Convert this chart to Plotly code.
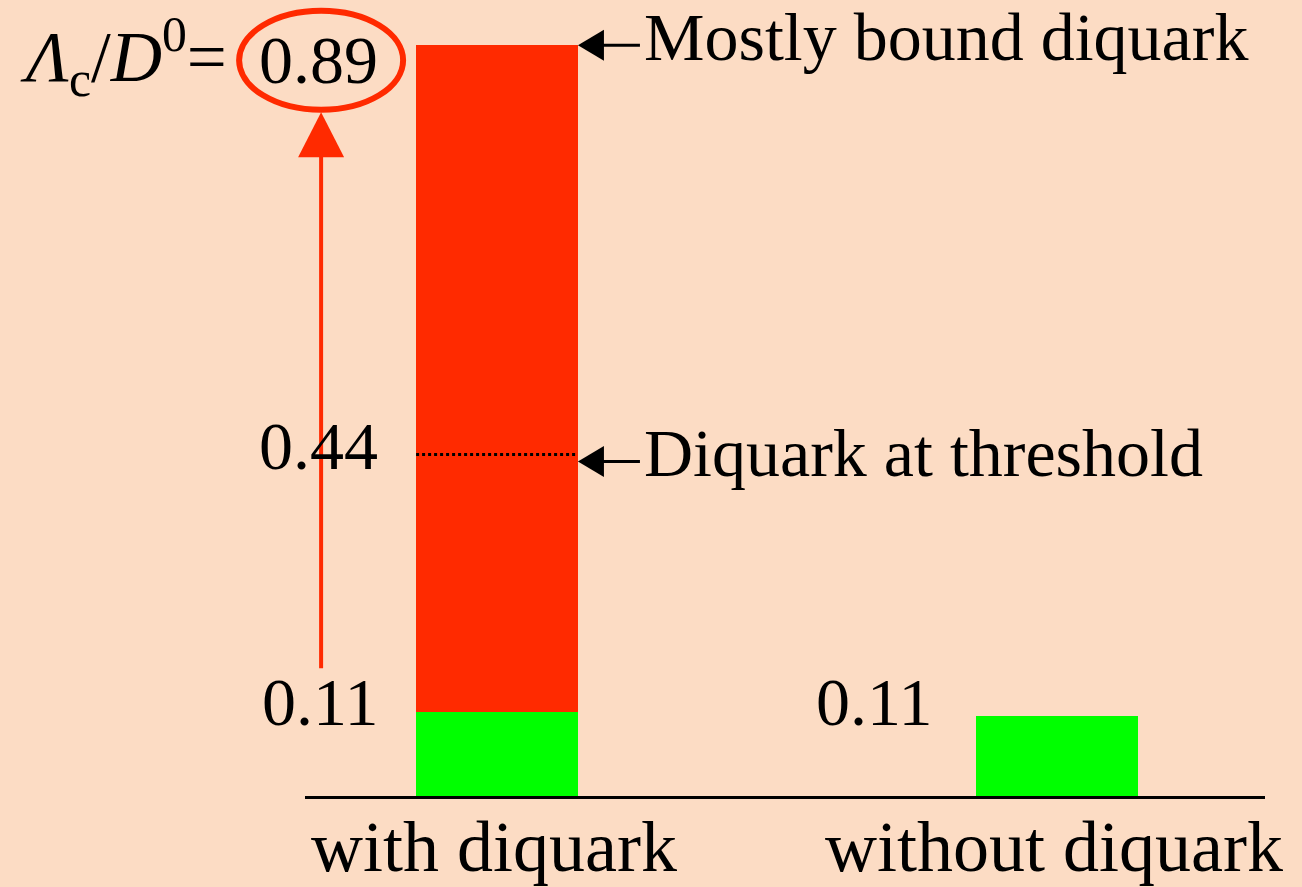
import plotly.graph_objects as go

# ---- data ----
categories = ["with diquark", "without diquark"]
x_pos = [0, 1]
base_share = [0.100, 0.095]      # green part
diquark_share = [0.790, 0.0]     # red part stacked on top
threshold_level = 0.405          # dotted line inside red bar
value_labels = ["0.89", "0.44", "0.11", "0.11"]

# ---- style / layout constants ----
BG = "#FCDCC4"
RED = "#FF2A00"
GREEN = "#00FF00"
FONT = "Liberation Serif"
BAR_W = 0.289
ML, MR, MT, MB = 305, 37, 20, 91
W, H = 1302, 887
X_RANGE = [-0.3429, 1.3714]
Y_RANGE = [0, 0.92]
SX = (W - ML - MR) / (X_RANGE[1] - X_RANGE[0])   # px per x unit

def dx(px):
    return px / SX

def to_paper_x(v):
    return (v - X_RANGE[0]) / (X_RANGE[1] - X_RANGE[0])

def to_paper_y(v):
    return (v - Y_RANGE[0]) / (Y_RANGE[1] - Y_RANGE[0])

fig = go.Figure()
fig.add_trace(go.Bar(x=x_pos, y=base_share, width=BAR_W, marker=dict(color=GREEN, line=dict(width=0)),
                     hoverinfo="skip", showlegend=False))
fig.add_trace(go.Bar(x=x_pos, y=diquark_share, width=BAR_W, marker=dict(color=RED, line=dict(width=0)),
                     hoverinfo="skip", showlegend=False))

top_level = base_share[0] + diquark_share[0]
left0 = x_pos[0] - BAR_W / 2
right0 = x_pos[0] + BAR_W / 2
left1 = x_pos[1] - BAR_W / 2
lab_x = left0 - dx(95)   # centre of the left label column
lab_px = to_paper_x(lab_x)
top_py = to_paper_y(top_level)

# dotted threshold line
fig.add_shape(type="line", xref="x", yref="y", x0=left0, x1=right0, y0=threshold_level, y1=threshold_level,
              line=dict(color="black", width=3, dash="dot"))

# black arrows pointing at the bar
for lvl, yoff, txt in [(top_level, 0, "Mostly bound diquark"), (threshold_level, -7, "Diquark at threshold")]:
    fig.add_shape(type="line", xref="x", yref="y", xsizemode="pixel", ysizemode="pixel",
                  xanchor=right0, yanchor=lvl, x0=20, x1=62, y0=yoff, y1=yoff,
                  line=dict(color="black", width=3))
    fig.add_shape(type="path", xref="x", yref="y", xsizemode="pixel", ysizemode="pixel",
                  xanchor=right0, yanchor=lvl,
                  path=f"M0,{yoff} L26,{yoff+15.5} L26,{yoff-15.5} Z",
                  fillcolor="black", line=dict(width=0))
    fig.add_annotation(x=right0, y=lvl, xref="x", yref="y", text=txt, showarrow=False,
                       xanchor="left", yanchor="middle", xshift=64, yshift=yoff + 8,
                       font=dict(family=FONT, size=68, color="black"))

# value labels
lab_specs = [
    (left0, top_level, -36, -15),
    (left0, threshold_level, -36, 8),
    (left0, base_share[0], -36, 10),
    (left1, base_share[1], -42, 14),
]
for (xa, ya, xs, ys), t in zip(lab_specs, value_labels):
    fig.add_annotation(x=xa, y=ya, xref="x", yref="y", text=t, showarrow=False,
                       xanchor="right", yanchor="middle", xshift=xs, yshift=ys,
                       font=dict(family=FONT, size=68, color="black"))

# category labels under the axis
for xp, cat in zip(x_pos, categories):
    fig.add_annotation(x=xp, y=0, xref="x", yref="paper", text=cat, showarrow=False,
                       xanchor="center", yanchor="top", xshift=-3, yshift=-9,
                       font=dict(family=FONT, size=72, color="black"))

# red ellipse around 0.89
fig.add_shape(type="circle", xref="paper", yref="paper", xsizemode="pixel", ysizemode="pixel",
              xanchor=lab_px, yanchor=top_py, x0=-82, x1=82, y0=-64.5, y1=34.5,
              line=dict(color=RED, width=6))

# red upward arrow from 0.11 to 0.89
fig.add_shape(type="line", xref="paper", yref="paper", xsizemode="pixel", ysizemode="pixel",
              xanchor=lab_px, yanchor=top_py, x0=0, x1=0, y0=-(668 - 45), y1=-(150 - 45),
              line=dict(color=RED, width=4))
fig.add_shape(type="path", xref="paper", yref="paper", xsizemode="pixel", ysizemode="pixel",
              xanchor=lab_px, yanchor=top_py,
              path="M0,-67 L23,-112 L-23,-112 Z", fillcolor=RED, line=dict(width=0))

# ratio label
fig.add_annotation(x=lab_x, y=top_level, xref="x", yref="y",
                   text="<i>Λ</i><sub>c</sub>/<i>D</i><sup>0</sup>=",
                   showarrow=False, xanchor="right", yanchor="middle", xshift=-92, yshift=-12,
                   font=dict(family=FONT, size=71, color="black"))

fig.update_layout(
    width=W, height=H,
    margin=dict(l=ML, r=MR, t=MT, b=MB),
    paper_bgcolor=BG, plot_bgcolor=BG,
    barmode="stack", bargap=0,
    showlegend=False,
    xaxis=dict(range=X_RANGE, tickvals=x_pos, showticklabels=False, showline=True, linecolor="black",
               linewidth=3, showgrid=False, zeroline=False, ticks="", automargin=False, fixedrange=True),
    yaxis=dict(range=Y_RANGE, visible=False, showgrid=False, zeroline=False, fixedrange=True),
)

fig.write_html("out.html", config={"displayModeBar": False},
               post_script="document.body.style.margin='0';document.body.style.background='" + BG + "';")
